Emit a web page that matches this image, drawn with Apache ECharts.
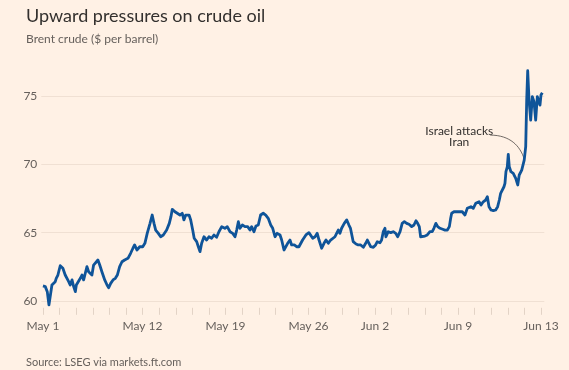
<!DOCTYPE html>
<html>
<head>
<meta charset="utf-8">
<script src="https://cdn.jsdelivr.net/npm/echarts@6/dist/echarts.min.js"></script>
<style>
  html, body { margin: 0; padding: 0; background: #fff1e5; }
  #chart { width: 569px; height: 370px; }
</style>
</head>
<body>
<div id="chart"></div>
<script>
// Trading-day index (0 = May 1) and Brent price ($/barrel)
const days = [
  0.00,0.14,0.26,0.36,0.44,0.54,0.64,0.74,0.80,0.90,1.04,1.20,1.34,1.46,1.55,1.64,1.75,1.85,1.95,2.01,
  2.11,2.25,2.35,2.45,2.55,2.65,2.75,2.85,2.95,3.05,3.15,3.31,3.42,3.55,3.72,3.86,3.96,4.08,4.22,4.36,
  4.48,4.62,4.76,4.92,5.12,5.28,5.42,5.52,5.66,5.83,6.01,6.14,6.28,6.45,6.58,6.69,6.79,6.95,7.09,7.25,
  7.45,7.61,7.71,7.79,7.95,8.09,8.25,8.39,8.49,8.60,8.69,8.80,8.90,9.02,9.11,9.26,9.36,9.46,9.56,9.70,
  9.86,10.00,10.16,10.30,10.46,10.60,10.77,10.96,11.10,11.27,11.43,11.57,11.67,11.77,11.87,12.01,12.17,12.33,12.47,12.57,
  12.71,12.83,12.97,13.11,13.27,13.42,13.57,13.72,13.84,13.98,14.11,14.28,14.38,14.52,14.62,14.74,14.88,14.98,15.14,15.28,
  15.42,15.54,15.64,15.74,15.84,16.02,16.14,16.25,16.39,16.52,16.63,16.79,16.93,17.05,17.19,17.33,17.45,17.59,17.69,17.79,
  17.89,17.99,18.15,18.30,18.43,18.52,18.69,18.86,18.99,19.14,19.30,19.44,19.54,19.64,19.74,19.90,20.04,20.14,20.30,20.40,
  20.50,20.60,20.66,20.80,20.95,21.10,21.25,21.37,21.51,21.64,21.77,21.91,22.05,22.21,22.35,22.47,22.57,22.67,22.75,22.87,
  23.01,23.15,23.31,23.45,23.55,23.67,23.78,23.92,24.08,24.22,24.36,24.48,24.56,24.62,24.76,24.88,25.02,25.12,25.26,25.42,
  25.56,25.66,25.78,25.92,26.07,26.19,26.27,26.39,26.52,26.67,26.77,26.87,26.99,27.13,27.27,27.39,27.49,27.57,27.67,27.77,
  27.83,27.89,27.97,28.03,28.09,28.19,28.33,28.48,28.60,28.69,28.84,28.93,28.99,29.08,29.14,29.20,29.28,29.38,29.48,29.58,
  29.68,29.78,29.88,29.94,30.00,30.08
];
const prices = [
  61.10,61.05,60.68,59.71,59.58,61.17,61.05,61.41,61.66,61.90,62.58,62.39,61.90,62.03,61.41,61.17,61.54,61.05,60.68,61.17,
  61.05,61.66,61.90,61.54,62.03,62.51,62.14,62.27,61.90,62.63,62.51,63.00,62.63,62.14,61.54,61.17,60.97,61.29,61.54,61.66,
  61.90,62.51,62.87,63.00,63.12,63.49,63.86,64.10,63.73,63.97,63.97,64.22,64.95,65.68,66.29,65.68,65.19,64.95,64.70,64.83,
  65.19,65.68,66.17,66.71,66.53,66.42,66.29,66.42,65.93,66.29,66.17,66.29,65.93,65.19,64.59,64.34,63.97,63.61,64.22,64.70,
  64.46,64.70,64.59,64.83,64.66,65.07,65.44,65.32,65.44,65.07,64.95,64.70,65.19,65.80,65.32,65.56,65.44,65.44,65.19,65.44,
  65.07,65.49,65.56,66.29,66.42,66.29,66.05,65.56,65.32,64.70,64.95,64.83,64.46,63.73,63.61,64.22,64.46,64.10,64.10,63.97,
  63.97,63.86,64.46,64.59,64.83,65.00,64.95,64.59,64.70,64.95,64.46,63.86,64.22,64.46,64.22,64.46,64.34,64.70,64.95,65.19,
  64.95,65.32,65.68,65.93,65.56,65.34,64.34,64.17,64.10,64.10,63.93,64.22,64.46,64.22,63.97,63.93,64.10,64.34,64.26,64.46,
  65.07,65.32,64.70,65.07,65.00,65.07,64.95,64.70,65.07,65.68,65.80,65.68,65.61,65.44,65.56,65.87,65.68,65.44,64.70,64.83,
  64.75,64.83,65.07,65.07,65.32,65.68,65.44,65.32,65.25,65.19,65.19,65.44,66.05,66.42,66.53,66.46,66.53,66.66,66.53,66.29,
  66.78,66.66,66.90,66.78,67.15,67.02,67.26,67.02,67.26,67.39,67.63,66.90,66.66,66.61,66.66,66.90,67.39,67.88,68.00,68.36,
  68.61,69.46,69.82,70.73,69.82,69.46,69.34,68.98,68.49,69.22,69.58,69.46,70.31,71.29,74.70,76.85,74.70,73.24,74.95,74.58,
  73.24,74.95,75.07,74.34,75.07,75.24
];

// Axis ticks and labels
const xTickDays = [0,1,2,3,4,5,6,7,8,9,10,11,12,13,14,15,16,17,18,19,20,21,22,23,24,25,26,27,28,29,30];
const xLabelDays = [0, 6, 11, 16, 20, 25, 30];
const xLabels = ['May 1', 'May 12', 'May 19', 'May 26', 'Jun 2', 'Jun 9', 'Jun 13'];
const yTicks = [60, 65, 70, 75];

// Annotation
const annotationPoint = [28.99, 70.31];
const annotationText = 'Israel attacks\nIran';

const FONT = 'Lato, "Noto Sans", sans-serif';
const chart = echarts.init(document.getElementById('chart'), null, { renderer: 'canvas' });

const option = {
  backgroundColor: '#fff1e5',
  animation: false,
  title: [
    { text: 'Upward pressures on crude oil', left: 21, top: 1,
      textStyle: { fontFamily: FONT, fontSize: 18, fontWeight: 'normal', color: '#33302e', lineHeight: 20 } },
    { text: 'Brent crude ($ per barrel)', left: 21, top: 26,
      textStyle: { fontFamily: FONT, fontSize: 12, fontWeight: 'normal', color: '#66605c', lineHeight: 16 } },
    { text: 'Source: LSEG via markets.ft.com', left: 21, top: 349,
      textStyle: { fontFamily: FONT, fontSize: 11, fontWeight: 'normal', color: '#66605c', lineHeight: 16 } }
  ],
  grid: { left: 41.3, right: 24.7, top: 68.7, bottom: 62.2, containLabel: false },
  xAxis: {
    type: 'value',
    min: -0.1,
    max: 30.2,
    axisLine: { show: false },
    axisTick: { show: true, customValues: xTickDays, length: 7, lineStyle: { color: '#e3d3c6', width: 1 } },
    axisLabel: {
      customValues: xLabelDays,
      formatter: v => { const i = xLabelDays.indexOf(Math.round(v)); return i >= 0 ? xLabels[i] : ''; },
      fontFamily: FONT, fontSize: 12, color: '#66605c', margin: 12
    },
    splitLine: { show: false }
  },
  yAxis: {
    type: 'value',
    min: 59.5,
    max: 77,
    axisLine: { show: false },
    axisTick: { show: false, customValues: yTicks },
    axisLabel: { customValues: yTicks, fontFamily: FONT, fontSize: 12, color: '#66605c', margin: 4 },
    splitLine: { show: true, lineStyle: { color: '#f0e0d3', width: 1 } }
  },
  series: [{
    type: 'line',
    data: days.map((d, i) => [d, prices[i]]),
    showSymbol: false,
    lineStyle: { color: '#0f5499', width: 2.8, join: 'round' },
    clip: false
  }]
};
chart.setOption(option);

// Annotation placed relative to its data point
const p = chart.convertToPixel({ gridIndex: 0 }, annotationPoint);
chart.setOption({
  graphic: [
    { type: 'text', x: p[0] - 65, y: p[1] - 23,
      style: { text: annotationText, fontFamily: FONT, fontSize: 12, fill: '#33302e',
               align: 'center', verticalAlign: 'middle', lineHeight: 11 } },
    { type: 'bezierCurve',
      shape: { x1: p[0] - 34, y1: p[1] - 25, cpx1: p[0] - 14, cpx2: p[0] - 4,
               cpy1: p[1] - 25, cpy2: p[1] - 14, x2: p[0], y2: p[1] - 1 },
      style: { stroke: '#4d4845', lineWidth: 0.8, fill: null } }
  ]
});
</script>
</body>
</html>
